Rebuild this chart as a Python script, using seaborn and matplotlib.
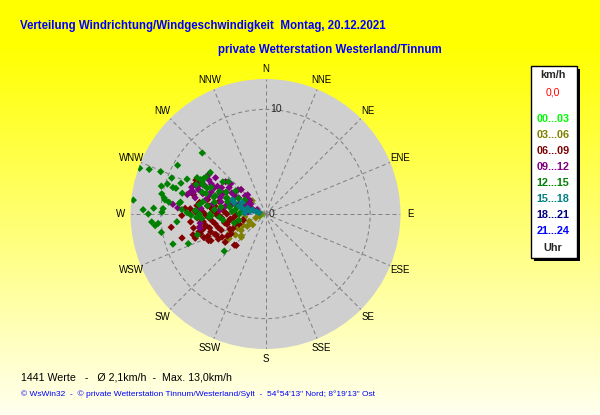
# -*- coding: utf-8 -*-
"""
Windrose als Punktwolke: Windrichtung / Windgeschwindigkeit 20.12.2021
"""

import numpy as np
import pandas as pd
import seaborn as sns
import matplotlib
matplotlib.use('Agg')
import matplotlib.pyplot as plt
from matplotlib.patches import Rectangle

# Richtung in Grad (0 = N, im Uhrzeigersinn), Geschwindigkeit in km/h
richtung_0003 = [262, 255]
kmh_0003      = [0.4, 0.5]

richtung_0306 = [315, 315, 230, 228, 242, 243, 243, 246, 248, 252, 235, 236, 236, 236,
                 270, 242, 236, 226, 262]
kmh_0306      = [3.3, 1.8, 1.6, 3.1, 3.7, 3.0, 2.4, 1.7, 1.0, 0.6, 3.5, 4.2, 2.1, 2.8,
                 0.4, 3.9, 4.4, 3.2, 2.0]

richtung_0609 = [277, 272, 278, 272, 278, 270, 267, 263, 266, 259, 265, 255, 263, 256,
                 256, 248, 250, 240, 246, 249, 272, 280, 284, 285, 264, 254, 251, 249,
                 254, 262, 225, 247, 242, 296, 270, 269, 263, 255, 252, 235, 223, 244,
                 240, 255, 274, 296, 268, 260, 275, 258, 245, 252, 293, 285,
                 274, 269, 275, 269, 274, 262, 268, 259, 262, 254, 258, 247, 253, 259,
                 259, 253, 249, 242, 274, 278, 279]
kmh_0609      = [6.6, 6.0, 5.4, 4.8, 4.3, 3.7, 6.5, 6.0, 5.4, 4.9, 4.2, 3.8, 3.1, 6.2,
                 5.5, 5.2, 4.5, 4.2, 3.4, 2.7, 6.7, 6.4, 5.7, 4.6, 7.2, 7.2, 7.1, 6.3,
                 8.3, 9.1, 4.2, 5.1, 4.7, 7.1, 7.2, 8.0, 6.2, 6.6, 5.5, 4.7, 4.1, 5.8,
                 3.8, 2.2, 7.7, 7.4, 4.6, 3.5, 5.0, 5.9, 6.0, 3.0, 7.3, 7.1,
                 6.3, 5.7, 5.1, 4.5, 4.0, 3.4, 2.8, 5.8, 5.1, 4.7, 4.0, 3.7, 2.9, 6.4,
                 7.0, 6.5, 5.9, 5.1, 7.2, 5.6, 4.9]

richtung_0912 = [290, 295, 292, 300, 296, 306, 301, 315, 283, 281, 285, 286, 286, 301,
                 293, 283, 301, 309, 304, 291, 305, 286, 290, 274, 276, 284, 262, 258,
                 297, 275, 294, 275, 276, 295, 306, 302, 317, 310, 291,
                 287, 295, 288, 297, 290, 299, 287, 301, 286, 304, 288, 292, 299, 301,
                 311, 291, 288, 281, 312, 311, 311]
kmh_0912      = [6.8, 6.4, 5.6, 5.3, 4.5, 4.3, 3.4, 3.3, 5.9, 5.1, 4.4, 3.6, 2.8, 2.2,
                 1.5, 6.9, 6.3, 4.9, 3.6, 2.4, 6.6, 7.5, 7.5, 8.4, 8.9, 7.7, 6.3, 6.4,
                 0.9, 4.4, 3.4, 6.2, 1.7, 4.8, 5.9, 3.8, 2.5, 2.1, 1.9,
                 7.2, 6.8, 5.7, 5.5, 4.6, 4.3, 3.3, 3.0, 2.1, 1.7, 6.3, 7.1, 5.9, 4.9,
                 4.4, 2.7, 1.2, 3.9, 2.6, 3.5, 2.0]

richtung_1215 = [290, 291, 292, 299, 276, 272, 270, 273, 266, 264, 260, 252, 265, 271,
                 273, 279, 287, 286, 285, 291, 290, 294, 284, 277, 271, 249, 314, 307,
                 311, 298, 265, 228, 281, 278, 286, 278, 277, 273, 269, 273, 278, 298,
                 293, 289, 253, 307, 302, 297, 299, 308, 270, 267, 275, 279, 288, 274,
                 284, 304, 266, 257, 254, 278, 266, 267, 292, 283, 296, 288, 281, 270,
                 289, 300, 295, 300,
                 281, 290, 293, 278, 268, 262, 270, 275, 296, 294, 299]
kmh_1215      = [12.8, 11.9, 10.8, 9.6, 12.7, 11.7, 11.2, 10.7, 10.9, 10.6, 10.1, 9.3, 8.5, 9.9,
                 9.8, 9.8, 9.8, 9.2, 10.3, 9.6, 8.6, 8.2, 8.2, 8.3, 7.5, 7.9, 8.4, 5.1,
                 4.7, 7.0, 10.3, 5.3, 10.1, 9.7, 8.9, 8.2, 9.3, 8.0, 7.1, 6.7, 6.4, 7.4,
                 7.2, 6.4, 6.8, 6.6, 6.7, 6.8, 4.3, 3.6, 5.3, 5.4, 4.9, 4.3, 3.8, 3.2,
                 2.8, 2.4, 4.4, 2.6, 3.1, 5.6, 6.1, 6.6, 4.0, 5.0, 5.8, 5.2, 3.5, 2.5,
                 6.0, 3.0, 6.6, 6.8,
                 6.1, 5.1, 4.0, 2.9, 5.2, 4.1, 6.3, 2.3, 4.9, 6.1, 2.4]

richtung_1518 = [287, 284, 282, 288, 296, 293, 290, 273, 280, 285, 287, 281]
kmh_1518      = [1.3, 0.9, 0.6, 1.8, 2.5, 3.4, 3.2, 2.0, 1.5, 2.4, 2.6, 2.0]

zeiten = ['00...03', '03...06', '06...09', '09...12', '12...15', '15...18', '18...21', '21...24']
farben = ['#00FF00', '#808000', '#800000', '#800080', '#008000', '#008080', '#000080', '#0000FF']
himmel = ['N', 'NNE', 'NE', 'ENE', 'E', 'ESE', 'SE', 'SSE',
          'S', 'SSW', 'SW', 'WSW', 'W', 'WNW', 'NW', 'NNW']


def build_frame():
    teile = [(zeiten[0], richtung_0003, kmh_0003),
             (zeiten[1], richtung_0306, kmh_0306),
             (zeiten[2], richtung_0609, kmh_0609),
             (zeiten[3], richtung_0912, kmh_0912),
             (zeiten[4], richtung_1215, kmh_1215),
             (zeiten[5], richtung_1518, kmh_1518)]
    frames = []
    for zeit, ri, v in teile:
        frames.append(pd.DataFrame({'zeit': zeit, 'richtung': ri, 'kmh': v}))
    df = pd.concat(frames, ignore_index=True)
    df['theta'] = np.deg2rad(df['richtung'])
    return df


def main():
    sns.set_style('white')
    plt.rcParams['font.family'] = ['Liberation Sans', 'DejaVu Sans']

    df = build_frame()

    fig = plt.figure(figsize=(6, 4.15), dpi=100)

    # gelber Verlauf im Hintergrund
    bg = fig.add_axes([0, 0, 1, 1])
    yy = np.arange(415)
    t = np.clip((yy - 45) / 370.0, 0, 1)
    grad = np.ones((415, 1, 3))
    grad[:, 0, 2] = 0.94 * t
    bg.imshow(grad, aspect='auto', extent=[0, 1, 0, 1])
    bg.axis('off')

    ax = fig.add_axes([0.2175, 0.159, 0.45, 0.6506], projection='polar')
    ax.set_theta_zero_location('N')
    ax.set_theta_direction(-1)
    ax.set_facecolor('#CFCFCF')
    ax.spines['polar'].set_visible(False)

    sns.scatterplot(data=df, x='theta', y='kmh', hue='zeit',
                    palette=dict(zip(zeiten, farben)), marker='D', s=14,
                    linewidth=0, legend=False, ax=ax)
    ax.set_xlabel('')
    ax.set_ylabel('')
    ax.set_ylim(0, 12.9)

    ax.set_xticks(np.deg2rad(np.arange(0, 360, 22.5)))
    ax.set_xticklabels(himmel, fontsize=7, color='black')
    ax.tick_params(axis='x', pad=-3)
    ax.set_yticks([10])
    ax.set_yticklabels([])
    ax.grid(True, color='#808080', linestyle=(0, (4, 3)), linewidth=0.72)
    ax.text(np.deg2rad(2.5), 10, '10', ha='left', va='center', fontsize=7.5)
    ax.text(np.deg2rad(90), 0.3, '0', ha='left', va='center', fontsize=7.5)

    # Titel
    fig.text(20 / 600, 1 - 26 / 415,
             'Verteilung Windrichtung/Windgeschwindigkeit  Montag, 20.12.2021',
             color='#0000FF', fontsize=8.3, fontweight='bold', ha='left', va='center')
    fig.text(218 / 600, 1 - 50.5 / 415, 'private Wetterstation Westerland/Tinnum',
             color='#0000FF', fontsize=8.3, fontweight='bold', ha='left', va='center')
    fig.text(21 / 600, 1 - 377 / 415,
             '1441 Werte   -   \u00d8 2,1km/h  -  Max. 13,0km/h',
             color='black', fontsize=7.7, ha='left', va='center')
    fig.text(21 / 600, 1 - 394.5 / 415,
             '\u00a9 WsWin32  -  \u00a9 private Wetterstation Tinnum/Westerland/Sylt  -  '
             '54\u00b054\'13" Nord; 8\u00b019\'13" Ost',
             color='#0000FF', fontsize=6, ha='left', va='center')

    # Legende rechts
    fig.patches.append(Rectangle((534 / 600, 1 - 261 / 415), 46 / 600, 192 / 415,
                                 transform=fig.transFigure, facecolor='black',
                                 edgecolor='none', zorder=1))
    fig.patches.append(Rectangle((531 / 600, 1 - 258 / 415), 46 / 600, 192 / 415,
                                 transform=fig.transFigure, facecolor='white',
                                 edgecolor='black', linewidth=1, zorder=2))
    lx = 553 / 600
    fig.text(lx, 1 - 75 / 415, 'km/h', fontsize=7.8, fontweight='bold',
             ha='center', va='center', zorder=3)
    fig.text(lx, 1 - 92.5 / 415, '0,0', fontsize=7.5, color='#FF0000',
             ha='center', va='center', zorder=3)
    y_leg = [119.5, 135, 150.5, 166.5, 183, 199, 215, 231]
    for zeit, farbe, yl in zip(zeiten, farben, y_leg):
        fig.text(lx, 1 - yl / 415, zeit, fontsize=7.8, fontweight='bold', color=farbe,
                 ha='center', va='center', zorder=3)
    fig.text(lx, 1 - 247.5 / 415, 'Uhr', fontsize=7.8, fontweight='bold',
             ha='center', va='center', zorder=3)

    fig.savefig('out.png', dpi=100)


if __name__ == '__main__':
    main()
